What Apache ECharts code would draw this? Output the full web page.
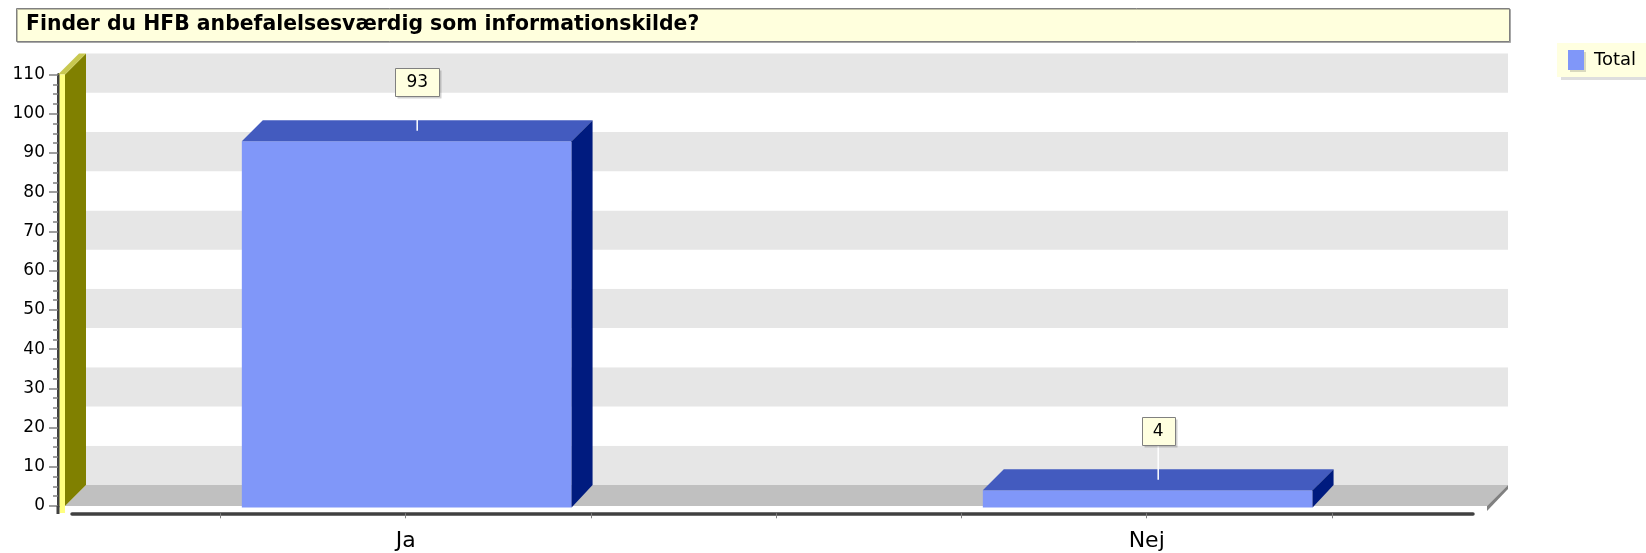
<!DOCTYPE html>
<html>
<head>
<meta charset="utf-8">
<script src="https://cdn.jsdelivr.net/npm/echarts@6/dist/echarts.min.js"></script>
<style>
html,body{margin:0;padding:0;background:#ffffff;}
#chart{width:1646px;height:553px;}
</style>
</head>
<body>
<div id="chart"></div>
<script>
// ---------- data ----------
const titleText = 'Finder du HFB anbefalelsesværdig som informationskilde?';
const seriesName = 'Total';
const categories = ['Ja', 'Nej'];
const totals = [93, 4];
const yTicks = [0, 10, 20, 30, 40, 50, 60, 70, 80, 90, 100, 110];
const xTickPositions = [-0.25, 0, 0.25, 0.5, 0.75, 1, 1.25];

// ---------- layout / style ----------
const FONT = 'DejaVu Sans';
const GRID_LEFT = 35.2, GRID_RIGHT = 128.8, GRID_TOP = 74.5, GRID_BOTTOM = 47;
const AXIS_X = 58, WALL_T = 7, FRONT_RIGHT = 1487;
const LINE_LEFT = 72, LINE_RIGHT = 1473;
const DX = 21, DY = -21;
const BAR_RATIO = 0.445;
const C_FRONT = '#8097F9', C_TOP = '#435BBF', C_SIDE = '#001B7F';
const C_BOX = '#FFFFE0';

const bandW = (1646 - GRID_LEFT - GRID_RIGHT) / categories.length;
const X1_MIN = -0.5 + (LINE_LEFT - GRID_LEFT) / bandW;
const X1_MAX = categories.length - 0.5 - ((1646 - GRID_RIGHT) - LINE_RIGHT) / bandW;

const measureCtx = document.createElement('canvas').getContext('2d');
function textWidth(t, font) { measureCtx.font = font; return measureCtx.measureText(t).width; }

const bands = yTicks.slice(0, -1).map((v, i) => [0, v, yTicks[i + 1], i]);

function renderFrame(params, api) {
  const lo = api.value(1), hi = api.value(2), i = api.value(3);
  const yLo = api.coord([0, lo])[1], yHi = api.coord([0, hi])[1];
  const bx0 = AXIS_X + WALL_T + DX, bx1 = FRONT_RIGHT + DX;
  const children = [{
    type: 'rect',
    shape: {x: bx0, y: yHi + DY, width: bx1 - bx0, height: yLo - yHi},
    style: {fill: i % 2 === 0 ? '#E6E6E6' : '#FFFFFF'}
  }];
  if (i === 0) {
    const y0 = yLo;
    const yTop = api.coord([0, yTicks[yTicks.length - 1]])[1];
    const ix = AXIS_X + WALL_T;
    children.push(
      {type: 'polygon', shape: {points: [[ix, y0], [ix + DX, y0 + DY], [FRONT_RIGHT + DX, y0 + DY], [FRONT_RIGHT, y0]]}, style: {fill: '#C0C0C0'}},
      {type: 'polygon', shape: {points: [[FRONT_RIGHT, y0], [FRONT_RIGHT + DX, y0 + DY], [FRONT_RIGHT + DX, y0 + DY + 4], [FRONT_RIGHT, y0 + 5]]}, style: {fill: '#808080'}},
      {type: 'polygon', shape: {points: [[ix, yTop], [ix + DX, yTop + DY], [ix + DX, y0 + DY], [ix, y0]]}, style: {fill: '#808000'}},
      {type: 'polygon', shape: {points: [[AXIS_X, yTop], [AXIS_X + DX, yTop + DY], [ix + DX, yTop + DY], [ix, yTop]]}, style: {fill: '#C8C850'}},
      {type: 'rect', shape: {x: AXIS_X + 1.5, y: yTop, width: WALL_T - 1.5, height: y0 + 7 - yTop}, style: {fill: '#FFFF80'}},
      {type: 'line', shape: {x1: AXIS_X, y1: y0, x2: AXIS_X, y2: y0 + 8}, style: {stroke: '#404040', lineWidth: 3}}
    );
  }
  return {type: 'group', children};
}

function renderBar(params, api) {
  const idx = api.value(0), val = api.value(1);
  const top = api.coord([idx, val]);
  const base = api.coord([idx, 0]);
  const w = api.size([1, 0])[0] * BAR_RATIO;
  const xl = top[0] - w / 2 + 1, xr = xl + w;
  const yt = top[1], y0 = base[1], yb = base[1] + 1.5;
  const mx = xl + w / 2 + DX / 2, my = yt + DY / 2;
  const labelFont = '17px "' + FONT + '"';
  const txt = String(val);
  const bw = Math.round(textWidth(txt, labelFont)) + 22, bh = 28;
  const boxBottom = my - 35;
  return {
    type: 'group',
    children: [
      {type: 'rect', shape: {x: xl, y: yt, width: w, height: yb - yt}, style: {fill: C_FRONT}},
      {type: 'polygon', shape: {points: [[xl, yt], [xl + DX, yt + DY], [xr + DX, yt + DY], [xr, yt]]}, style: {fill: C_TOP}},
      {type: 'polygon', shape: {points: [[xr, yt], [xr + DX, yt + DY], [xr + DX, y0 + DY], [xr, yb]]}, style: {fill: C_SIDE}},
      {type: 'line', shape: {x1: mx, y1: my, x2: mx, y2: boxBottom}, style: {stroke: '#FFFFFF', lineWidth: 1.5}},
      {type: 'rect', shape: {x: Math.round(mx - bw / 2) + 2.5, y: Math.round(boxBottom - bh) + 2.5, width: bw, height: bh}, style: {fill: 'rgba(0,0,0,0.18)'}},
      {type: 'rect', shape: {x: Math.round(mx - bw / 2) + 0.5, y: Math.round(boxBottom - bh) + 0.5, width: bw, height: bh}, style: {fill: C_BOX, stroke: '#808080', lineWidth: 1}},
      {type: 'text', style: {x: mx, y: boxBottom - bh / 2 + 1, text: txt, font: labelFont, fill: '#000', align: 'center', verticalAlign: 'middle'}}
    ]
  };
}

const chart = echarts.init(document.getElementById('chart'), null, {renderer: 'canvas'});
chart.setOption({
  animation: false,
  backgroundColor: '#FFFFFF',
  title: {
    text: titleText, left: 26, top: 14, padding: 0,
    textStyle: {fontFamily: FONT, fontWeight: 'bold', fontSize: 20.4, color: '#000', lineHeight: 22}
  },
  graphic: [{
    type: 'rect', z: -10,
    shape: {x: 16.5, y: 8.5, width: 1493, height: 33},
    style: {fill: '#FFFFDD', stroke: '#808080', lineWidth: 1, shadowColor: 'rgba(0,0,0,0.25)', shadowOffsetX: 1, shadowOffsetY: 1}
  }],
  legend: {
    data: [{name: seriesName, icon: 'rect'}],
    left: 1557, top: 43, padding: [7, 11, 7, 11],
    itemWidth: 16, itemHeight: 20, itemGap: 10,
    backgroundColor: '#FFFFE0',
    shadowColor: 'rgba(0,0,0,0.13)', shadowOffsetX: 4, shadowOffsetY: 3, shadowBlur: 0,
    textStyle: {fontFamily: FONT, fontSize: 18, color: '#000', padding: [0, 0, 0, 5]},
    itemStyle: {shadowColor: 'rgba(0,0,0,0.15)', shadowOffsetX: 2, shadowOffsetY: 2}
  },
  grid: [
    {left: GRID_LEFT, right: GRID_RIGHT, top: GRID_TOP, bottom: GRID_BOTTOM, outerBoundsMode: 'none'},
    {left: LINE_LEFT, right: 1646 - LINE_RIGHT, top: GRID_TOP, bottom: GRID_BOTTOM, outerBoundsMode: 'none'}
  ],
  xAxis: [{
    type: 'category', gridIndex: 0, data: categories,
    axisLine: {show: false}, axisTick: {show: false}, splitLine: {show: false},
    axisLabel: {fontFamily: FONT, fontSize: 22, color: '#000', margin: 24}
  }, {
    type: 'value', gridIndex: 1, min: X1_MIN, max: X1_MAX, offset: 7.3,
    axisLine: {show: true, onZero: false, lineStyle: {color: '#404040', width: 3.5}},
    axisTick: {show: true, customValues: xTickPositions, length: 5, lineStyle: {color: '#808080', width: 1}},
    axisLabel: {show: false}, splitLine: {show: false}
  }],
  yAxis: [{
    type: 'value', gridIndex: 0, min: 0, max: 110, interval: 10,
    offset: GRID_LEFT - AXIS_X,
    axisLine: {show: true, onZero: false, lineStyle: {color: '#404040', width: 3}},
    axisTick: {show: true, length: 9, lineStyle: {color: '#808080', width: 1.5}},
    minorTick: {show: true, splitNumber: 4, length: 5, lineStyle: {color: '#808080', width: 1.5}},
    axisLabel: {fontFamily: FONT, fontSize: 17, color: '#000', margin: 13},
    splitLine: {show: false}
  }, {
    type: 'value', gridIndex: 1, min: 0, max: 110, show: false
  }],
  series: [{
    type: 'custom', name: 'frame', xAxisIndex: 0, yAxisIndex: 0, z: 1,
    data: bands, encode: {x: 0, y: [1, 2]}, renderItem: renderFrame, silent: true
  }, {
    type: 'custom', name: seriesName, xAxisIndex: 0, yAxisIndex: 0, z: 3,
    itemStyle: {color: C_FRONT},
    data: totals.map((v, i) => [i, v]), encode: {x: 0, y: 1}, renderItem: renderBar
  }]
});
</script>
</body>
</html>
